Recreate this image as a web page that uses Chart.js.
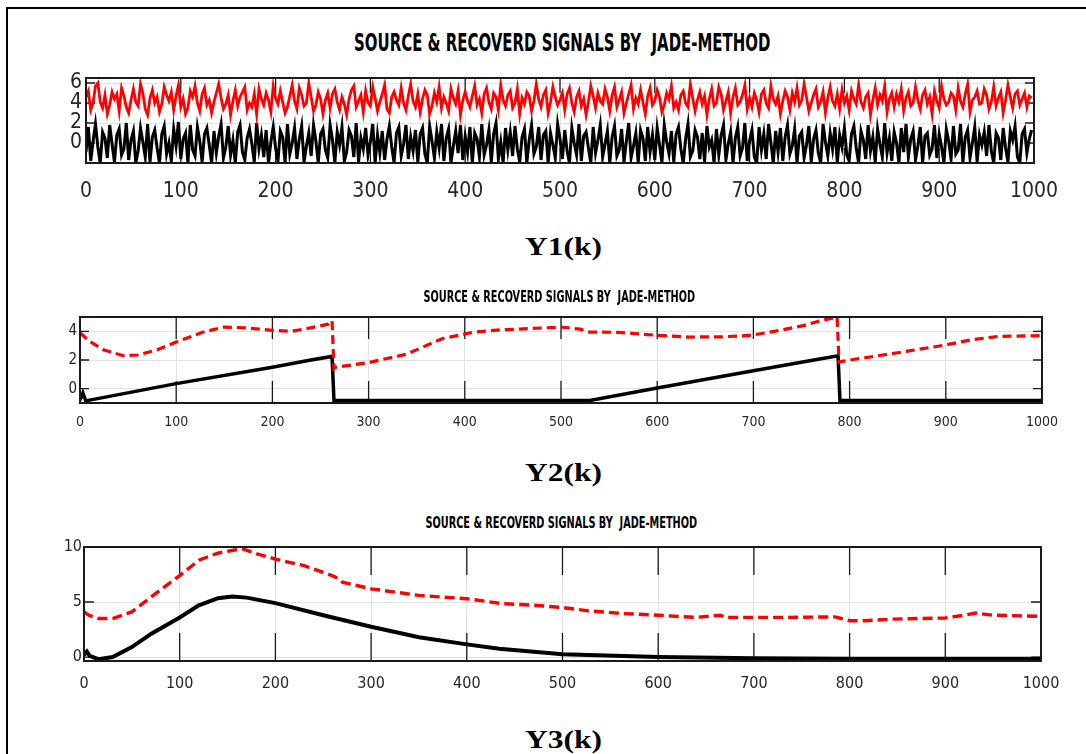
<!DOCTYPE html>
<html lang="en">
<head>
    <meta charset="UTF-8">
    <title>Source & recovered signals by JADE method</title>
    <script src="https://cdn.jsdelivr.net/npm/chart.js"></script>
    <style>
        body {
            margin: 0;
            background: #ffffff;
        }

        .figure {
            position: relative;
            width: 1086px;
            height: 754px;
            overflow: hidden;
            background: #ffffff;
        }

        .frame {
            position: absolute;
            left: 6px;
            top: 7px;
            width: 1100px;
            height: 800px;
            border-left: 2px solid #000;
            border-top: 2px solid #000;
        }

        .chart-box {
            position: absolute;
            left: 0;
        }

        .title {
            position: absolute;
            white-space: nowrap;
            font-family: 'Liberation Sans Narrow', 'DejaVu Sans Condensed', 'Liberation Sans', sans-serif;
            font-weight: bold;
            color: #000;
            line-height: 1;
            transform-origin: center center;
        }

        .xlabel {
            position: absolute;
            white-space: nowrap;
            font-family: 'Liberation Serif', 'DejaVu Serif', serif;
            font-weight: bold;
            color: #000;
            line-height: 1;
            transform-origin: center center;
        }
    </style>
</head>
<body>
    <div class="figure" id="figure">
        <div class="frame"></div>

        <div class="chart-box" style="top:60px"><canvas id="chart1" width="1086" height="150"></canvas></div>
        <div class="chart-box" style="top:305px"><canvas id="chart2" width="1086" height="130"></canvas></div>
        <div class="chart-box" style="top:535px"><canvas id="chart3" width="1086" height="165"></canvas></div>

        <div class="title" id="title1">SOURCE &amp; RECOVERD SIGNALS BY&nbsp; JADE-METHOD</div>
        <div class="title" id="title2">SOURCE &amp; RECOVERD SIGNALS BY&nbsp; JADE-METHOD</div>
        <div class="title" id="title3">SOURCE &amp; RECOVERD SIGNALS BY&nbsp; JADE-METHOD</div>

        <div class="xlabel" id="xlabel1">Y1(k)</div>
        <div class="xlabel" id="xlabel2">Y2(k)</div>
        <div class="xlabel" id="xlabel3">Y3(k)</div>
    </div>

    <script>
        // ---- data ----
        const xTicks = [0, 100, 200, 300, 400, 500, 600, 700, 800, 900, 1000];

        // Y1: noisy sources, one sample every 2.5 steps of k
        const noiseStep = 2.5;
        const y1Ticks = [0, 2, 4, 6];
        const y1Red = [
            4.6,5.2,3.3,4.0,5.7,6.0,4.1,3.5,4.8,2.9,3.8,5.1,4.4,4.9,3.2,5.5,4.7,3.6,3.0,4.3,
            5.4,4.1,3.7,5.9,5.0,3.4,2.8,4.5,5.3,4.0,4.6,3.1,3.9,5.6,4.8,4.2,5.1,3.3,4.7,5.8,
            3.6,4.4,2.9,3.5,5.2,4.6,5.7,4.0,3.2,4.9,5.5,3.8,4.3,3.0,4.1,5.0,5.9,4.5,3.4,3.9,
            4.8,2.8,4.2,5.3,3.7,4.6,5.1,5.6,3.3,4.0,3.6,4.9,2.9,5.4,4.4,3.8,5.0,4.3,3.1,5.7,
            4.5,3.9,5.2,4.1,3.0,3.6,4.7,5.8,4.2,3.4,5.5,4.8,3.7,4.0,6.0,4.6,3.2,3.8,5.1,4.4,
            2.9,4.3,5.0,3.5,4.9,5.4,4.1,3.3,4.6,3.9,2.8,4.4,5.3,5.7,3.6,4.2,4.8,3.1,5.2,4.0,
            3.7,5.6,4.5,3.2,4.1,4.9,5.8,3.4,3.0,4.6,5.1,4.3,3.8,5.5,4.0,3.3,4.7,5.9,4.2,3.6,
            4.9,3.1,4.4,5.3,4.8,2.9,3.7,5.0,4.1,5.6,3.5,4.6,4.0,3.2,5.4,4.5,3.9,5.2,2.8,4.3,
            5.1,4.2,3.6,4.7,5.7,3.8,4.4,3.0,4.9,5.5,4.1,3.4,5.0,4.6,3.3,5.8,4.3,3.7,4.8,5.2,
            3.5,4.0,5.4,2.9,4.5,3.9,5.1,4.7,3.2,4.2,5.9,4.4,3.6,4.8,5.3,3.0,4.1,5.6,4.6,3.8,
            4.3,5.0,3.3,4.9,5.5,4.0,3.1,4.6,5.2,3.7,4.4,2.8,4.1,5.7,4.7,3.5,5.0,4.2,3.9,5.4,
            4.6,3.2,4.8,5.6,3.6,4.3,5.1,3.0,4.0,4.9,5.8,3.4,4.5,3.9,5.3,4.1,2.9,4.7,5.5,3.8,
            4.2,5.3,4.6,3.1,3.8,5.0,4.4,5.7,3.5,4.1,3.3,4.8,5.2,4.0,3.6,5.9,4.5,3.2,4.3,5.1,
            3.9,4.7,2.8,4.4,5.4,3.7,4.0,5.6,4.9,3.3,4.2,5.1,3.0,4.6,5.5,3.8,4.1,4.8,5.8,3.4,
            4.5,3.6,5.0,4.3,3.1,4.9,5.3,4.0,3.5,5.7,4.4,3.9,4.7,2.9,4.2,5.2,4.6,3.3,5.0,4.1,
            5.5,3.8,4.3,5.9,4.6,3.2,4.0,4.8,5.4,3.6,4.1,5.1,3.0,4.5,5.6,4.2,3.7,4.9,3.4,5.3,
            4.0,4.7,3.3,5.2,4.4,3.9,5.8,4.1,3.5,4.6,5.0,2.8,4.3,5.5,3.8,4.8,4.2,5.7,3.1,4.4,
            5.0,3.6,4.9,4.1,5.4,3.2,4.5,5.1,3.7,4.0,5.6,4.3,3.4,4.8,5.3,3.9,4.6,2.9,5.2,4.2,
            3.5,5.7,4.4,3.8,4.1,5.0,4.7,3.3,5.5,4.2,3.6,4.9,5.9,3.1,4.3,4.6,5.2,3.9,4.0,5.4,
            4.8,3.4,4.1,5.6,3.7,4.5,5.1,3.0,4.3,5.8,4.6,3.5,4.9,5.2,3.8,4.4,5.0,3.6,4.7,4.5
        ];
        const y1Black = [
            -0.9,1.6,-1.8,0.2,1.9,-0.4,-2.0,1.1,0.5,-1.5,1.8,-0.1,-1.9,0.8,1.4,-1.2,-0.6,2.0,-1.7,0.3,
            1.2,-2.0,-0.8,1.5,0.1,-1.4,1.9,-1.9,0.6,1.3,-0.5,-2.0,0.9,1.7,-1.1,0.0,-1.8,1.4,-0.3,2.1,
            -1.6,0.4,1.0,-2.0,1.8,-0.7,-1.3,1.6,0.2,-1.9,0.9,1.5,-0.2,-2.0,1.2,-1.0,0.7,1.9,-1.5,-0.4,
            1.7,-1.2,0.3,-2.0,1.1,1.8,-0.9,-1.7,0.5,1.4,-0.1,-1.9,2.0,-0.6,0.8,-1.4,1.3,-2.0,0.1,1.6,
            -0.5,-1.8,1.2,0.6,-2.0,1.9,-1.1,0.0,1.5,-1.6,0.4,1.7,-1.9,-0.3,1.0,-1.3,1.8,0.2,-2.0,0.9,
            1.4,-0.7,-1.5,1.8,0.3,-2.0,1.1,-0.2,1.6,-1.8,-0.9,1.3,0.7,-1.4,2.0,-1.9,0.5,-0.6,1.5,-1.2,
            0.1,1.9,-2.0,0.8,-1.0,1.2,-1.7,0.4,1.7,-0.4,-2.0,1.0,1.6,-1.3,-0.1,1.8,-1.6,0.6,-0.8,1.3,
            -1.9,0.9,1.5,-1.1,-2.0,1.7,0.2,-1.5,1.1,-0.5,1.9,-1.8,0.5,1.4,-2.0,-0.3,1.2,-1.0,1.8,-1.7,
            0.7,-0.9,1.6,-2.0,1.0,0.4,-1.4,1.9,-1.2,-0.2,1.3,-1.9,0.9,2.0,-1.6,0.1,-2.0,1.5,-0.7,1.1,
            -1.3,1.7,-0.6,-1.9,0.6,1.4,-2.0,0.3,1.8,-1.1,-0.4,1.6,-1.7,0.8,1.2,-2.0,1.0,-0.2,-1.5,1.9,
            0.4,-1.6,1.3,-0.8,-2.0,1.5,0.0,-1.2,1.9,-1.8,0.7,1.1,-0.5,-2.0,1.6,-1.0,0.3,1.8,-1.4,-0.1,
            1.2,-2.0,0.6,1.7,-1.3,-0.7,1.4,-1.9,0.2,2.0,-1.5,-0.3,1.0,-2.0,1.3,0.5,-1.8,1.6,-0.9,0.8,
            -1.7,1.5,-0.2,-2.0,1.8,0.1,-1.1,1.2,-1.9,0.9,1.6,-0.6,-2.0,0.4,1.9,-1.4,-0.8,1.3,0.6,-1.6,
            1.0,-1.9,1.7,-0.4,0.3,-2.0,1.4,-1.2,0.8,1.8,-1.7,-0.1,1.1,-2.0,0.5,1.6,-1.3,-0.5,2.0,-1.8,
            0.2,1.3,-1.4,-2.0,1.6,-0.7,0.9,-1.6,1.9,0.0,-2.0,1.2,-0.9,1.5,-1.8,0.6,1.8,-1.1,-0.3,1.4,
            -2.0,0.7,1.1,-1.5,-0.2,1.7,-1.9,0.4,1.3,-1.0,-2.0,1.9,0.1,-1.3,1.0,-0.6,1.6,-2.0,0.8,-0.4,
            1.5,-1.2,-1.8,0.9,1.7,-0.5,-2.0,1.2,0.3,-1.6,1.8,-0.8,0.6,-1.9,1.4,-0.1,-1.4,2.0,-1.0,0.5,
            -1.8,1.1,0.0,-2.0,1.5,-0.9,1.9,-1.4,0.4,1.2,-1.7,-0.3,1.6,-2.0,0.7,1.0,-1.2,-0.6,1.8,-1.5,
            0.9,-0.4,-2.0,1.4,0.2,-1.6,1.7,-1.1,-0.7,1.9,-2.0,0.6,1.3,-1.5,0.0,1.6,-1.9,0.8,-0.2,1.1,
            -1.3,1.8,-0.8,-2.0,1.0,0.5,-1.7,1.5,-0.5,-1.9,1.2,0.3,1.7,-1.4,-2.0,0.9,1.4,-1.0,0.4,1.3
        ];

        // Y2: sawtooth source (black) and recovered signal (red dashed)
        const y2Ticks = [0, 2, 4];
        const y2BlackK = [0, 3, 6, 100, 200, 240, 262, 264, 530, 600, 700, 763, 788, 790, 1000];
        const y2Black  = [-0.8, -0.3, -0.85, 0.35, 1.5, 2.0, 2.25, -0.8, -0.82, 0.05, 1.25, 2.0, 2.3, -0.82, -0.82];
        const y2RedK = [0, 10, 25, 45, 60, 80, 100, 128, 150, 170, 200, 220, 240, 258, 262, 264, 266, 300, 339, 377,
                        410, 437, 470, 500, 520, 528, 560, 600, 633, 667, 689, 700, 722, 752, 770, 787, 789, 792,
                        807, 844, 900, 926, 955, 1000];
        const y2Red  = [3.9, 3.3, 2.7, 2.3, 2.35, 2.7, 3.25, 3.95, 4.3, 4.25, 4.07, 4.0, 4.25, 4.5, 4.75, 1.4, 1.5, 1.82, 2.4, 3.5,
                        3.95, 4.1, 4.2, 4.3, 4.15, 3.95, 3.93, 3.72, 3.6, 3.62, 3.68, 3.75, 4.0, 4.4, 4.75, 5.0, 1.85, 1.9,
                        2.07, 2.44, 3.05, 3.4, 3.65, 3.7];

        // Y3: bell-shaped source (black) and recovered signal (red dashed)
        const y3Ticks = [0, 5, 10];
        const y3BlackK = [0, 3, 6, 15, 30, 50, 70, 100, 120, 140, 155, 170, 200, 250, 300, 350, 400, 434, 500, 600, 700, 800, 1000];
        const y3Black  = [0.2, 0.5, 0.1, -0.2, 0.0, 0.9, 2.1, 3.6, 4.7, 5.35, 5.5, 5.4, 4.9, 3.8, 2.75, 1.8, 1.15, 0.75, 0.25, 0.0, -0.1, -0.15, -0.15];
        const y3RedK = [0, 5, 15, 30, 50, 70, 100, 120, 140, 165, 180, 200, 230, 250, 262, 270, 300, 350, 400, 437,
                        471, 500, 527, 564, 600, 639, 665, 670, 700, 733, 785, 800, 815, 845, 900, 920, 932, 950, 1000];
        const y3Red  = [4.1, 3.8, 3.5, 3.5, 4.1, 5.45, 7.4, 8.8, 9.45, 9.85, 9.4, 8.9, 8.3, 7.7, 7.3, 6.8, 6.2, 5.6, 5.3, 4.85,
                        4.7, 4.5, 4.2, 3.95, 3.8, 3.6, 3.8, 3.6, 3.6, 3.6, 3.65, 3.3, 3.3, 3.45, 3.55, 3.8, 4.0, 3.8, 3.7];

        // ---- helpers ----
        const narrow = "'Liberation Sans Narrow', 'DejaVu Sans Condensed', 'Liberation Sans', sans-serif";

        function pts(ks, vs) {
            return vs.map((v, i) => ({ x: ks[i], y: v }));
        }

        // matlab-like box with inward tick marks
        const axesBox = {
            id: 'axesBox',
            beforeDatasetsDraw(chart, args, opts) {
                const { ctx, chartArea: a, scales: { x, y } } = chart;
                ctx.save();
                ctx.strokeStyle = '#1a1a1a';
                ctx.lineWidth = 1.3;
                ctx.beginPath();
                x.ticks.forEach(t => {
                    const px = x.getPixelForValue(t.value);
                    ctx.moveTo(px, a.bottom);
                    ctx.lineTo(px, a.bottom - opts.xLen);
                    ctx.moveTo(px, a.top);
                    ctx.lineTo(px, a.top + opts.xLen);
                });
                y.ticks.forEach(t => {
                    const py = y.getPixelForValue(t.value);
                    ctx.moveTo(a.left, py);
                    ctx.lineTo(a.left + opts.yLen, py);
                    ctx.moveTo(a.right, py);
                    ctx.lineTo(a.right - opts.yLen, py);
                });
                ctx.stroke();
                ctx.restore();
            },
            afterDatasetsDraw(chart) {
                const { ctx, chartArea: a } = chart;
                ctx.save();
                ctx.strokeStyle = '#1a1a1a';
                ctx.lineWidth = 2;
                ctx.strokeRect(a.left, a.top, a.right - a.left, a.bottom - a.top);
                ctx.restore();
            }
        };

        function makeChart(id, cfg) {
            return new Chart(document.getElementById(id), {
                type: 'line',
                data: { datasets: cfg.datasets },
                options: {
                    responsive: false,
                    animation: false,
                    events: [],
                    layout: { padding: { left: 0, right: cfg.padRight, top: cfg.padTop, bottom: 0 } },
                    elements: { point: { radius: 0 }, line: { tension: 0 } },
                    plugins: {
                        legend: { display: false },
                        tooltip: { enabled: false },
                        axesBox: { xLen: cfg.xTickLen, yLen: cfg.yTickLen }
                    },
                    scales: {
                        x: {
                            type: 'linear',
                            min: 0,
                            max: 1000,
                            afterBuildTicks: s => { s.ticks = xTicks.map(v => ({ value: v })); },
                            afterFit: s => { s.height = cfg.xHeight; },
                            grid: { color: '#e2e2e2', lineWidth: 1, drawTicks: false },
                            border: { display: false },
                            ticks: {
                                maxRotation: 0,
                                autoSkip: false,
                                padding: cfg.xPad,
                                color: '#262626',
                                font: { family: narrow, size: cfg.xFont },
                                callback: v => String(v)
                            }
                        },
                        y: {
                            min: cfg.yMin,
                            max: cfg.yMax,
                            afterBuildTicks: s => { s.ticks = cfg.yTicks.map(v => ({ value: v })); },
                            afterFit: s => { s.width = cfg.plotLeft; },
                            grid: { color: '#e2e2e2', lineWidth: 1, drawTicks: false },
                            border: { display: false },
                            ticks: {
                                padding: cfg.yPad,
                                color: '#262626',
                                font: { family: narrow, size: cfg.yFont },
                                callback: v => String(v)
                            }
                        }
                    }
                },
                plugins: [axesBox]
            });
        }

        // ---- charts ----
        const noiseK = y1Red.map((v, i) => i * noiseStep);

        makeChart('chart1', {
            plotLeft: 86, padRight: 52, padTop: 18, xHeight: 47,
            yMin: -2, yMax: 6.5, yTicks: y1Ticks,
            xFont: 21, yFont: 21, xPad: 16, yPad: 4,
            xTickLen: 15, yTickLen: 9,
            datasets: [
                { data: pts(noiseK, y1Red), borderColor: '#ff0000', borderWidth: 2.8, clip: 0 },
                { data: pts(noiseK, y1Black), borderColor: '#000000', borderWidth: 3, clip: 0 }
            ]
        });

        makeChart('chart2', {
            plotLeft: 80, padRight: 44, padTop: 8, xHeight: 32,
            yMin: -1, yMax: 5, yTicks: y2Ticks,
            xFont: 14, yFont: 15, xPad: 11, yPad: 3,
            xTickLen: 22, yTickLen: 9,
            datasets: [
                { data: pts(y2RedK, y2Red), borderColor: '#ff0000', borderWidth: 3.2, borderDash: [9, 5], clip: 0 },
                { data: pts(y2BlackK, y2Black), borderColor: '#000000', borderWidth: 3.5, clip: 0 }
            ]
        });

        makeChart('chart3', {
            plotLeft: 84, padRight: 45, padTop: 12, xHeight: 39,
            yMin: -0.36, yMax: 10, yTicks: y3Ticks,
            xFont: 16, yFont: 16, xPad: 13, yPad: 2,
            xTickLen: 28, yTickLen: 10,
            datasets: [
                { data: pts(y3RedK, y3Red), borderColor: '#ff0000', borderWidth: 3.4, borderDash: [10, 5], clip: 0 },
                { data: pts(y3BlackK, y3Black), borderColor: '#000000', borderWidth: 4, clip: 0 }
            ]
        });

        // ---- titles and axis labels (real text, fitted to the reference box) ----
        function place(id, cx, cy, w, capH, capRatio) {
            const el = document.getElementById(id);
            el.style.fontSize = (capH / capRatio) + 'px';
            const sx = w / el.offsetWidth;
            el.style.left = (cx - el.offsetWidth / 2) + 'px';
            el.style.top = (cy - el.offsetHeight / 2) + 'px';
            el.style.transform = `scaleX(${sx})`;
        }

        place('title1', 562, 42, 416, 18, 0.72);
        place('title2', 559, 297, 272, 11, 0.72);
        place('title3', 561, 523, 272, 11, 0.72);

        place('xlabel1', 563, 247, 77, 17, 0.66);
        place('xlabel2', 563, 473, 77, 17, 0.66);
        place('xlabel3', 563, 740, 77, 17, 0.66);
    </script>
</body>
</html>
